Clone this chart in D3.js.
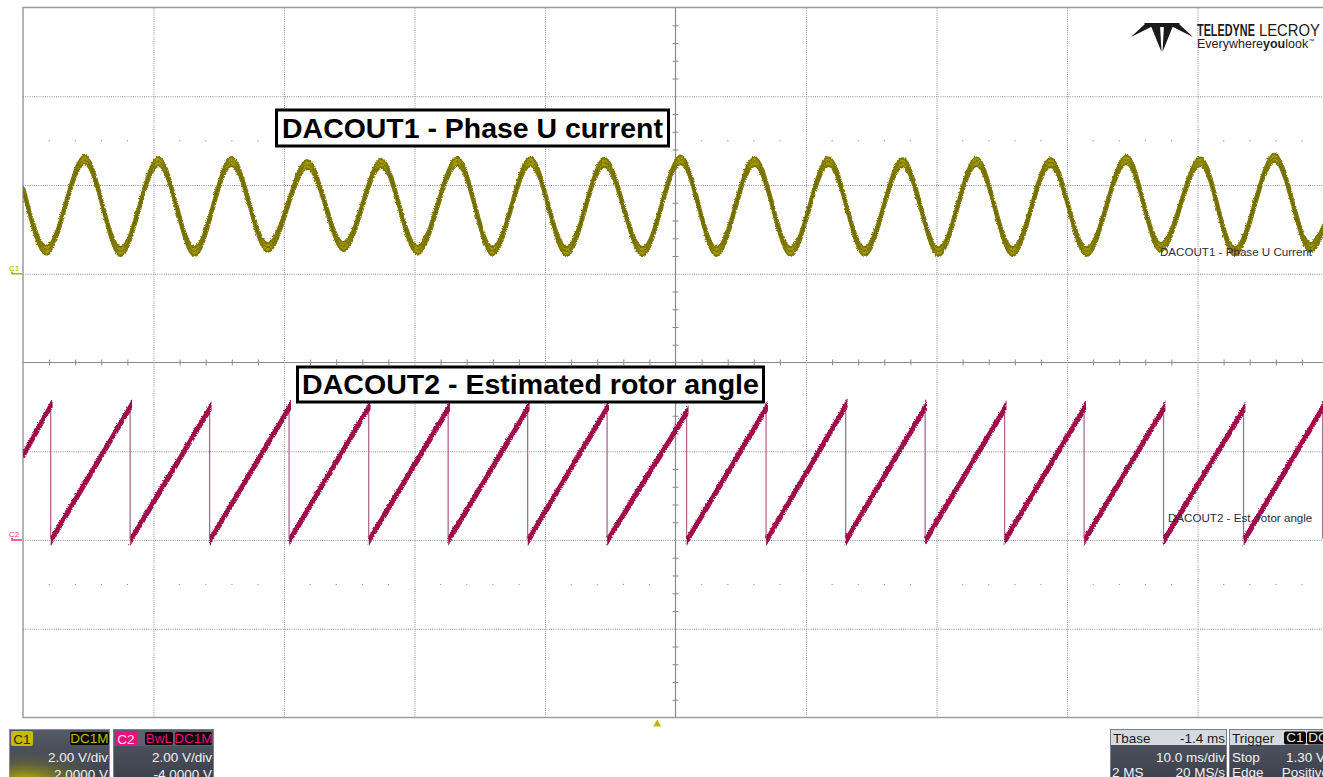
<!DOCTYPE html>
<html>
<head>
<meta charset="utf-8">
<script src="https://cdn.jsdelivr.net/npm/d3@7"></script>
<style>
  html, body { margin: 0; padding: 0; background: #fff; overflow: hidden; }
  svg { display: block; font-family: "Liberation Sans", Arial, sans-serif; }
</style>
</head>
<body>
<svg id="scope" width="1323" height="777"></svg>
<script>
// ---- acquisition settings ----
const timePerDiv = 10;          // ms/div
const triggerDelay = -1.4;      // ms (Tbase)
const hDivs = 10, vDivs = 8;
const c1VoltsPerDiv = 2, c1Offset = 2;     // V
const c2VoltsPerDiv = 2, c2Offset = -4;    // V
const triggerLevel = 1.30;                 // V on C1

// ---- C1: phase U current, extrema of each half cycle (ms, V) ----
const c1Times = [-48.6, -46.87, -43.95, -41.20, -38.28, -35.53, -32.69, -29.93, -26.87, -24.11,
                 -21.20, -18.44, -15.38, -12.69, -9.78, -7.02, -4.11, -1.20, 1.72, 4.47,
                 7.39, 10.15, 13.06, 15.82, 18.73, 21.49, 24.40, 27.16, 30.07, 32.83,
                 35.89, 38.51, 41.56, 44.18, 47.23, 50.00, 51.08];
const c1Volts = [1.87, 0.55, 2.59, 0.52, 2.55, 0.52, 2.55, 0.61, 2.48, 0.63,
                 2.51, 0.55, 2.55, 0.53, 2.55, 0.52, 2.53, 0.52, 2.59, 0.52,
                 2.55, 0.52, 2.55, 0.52, 2.53, 0.52, 2.55, 0.52, 2.53, 0.52,
                 2.59, 0.61, 2.55, 0.52, 2.63, 0.61, 1.10];

// ---- C2: estimated rotor angle sawtooth (wrap instants, ms / V) ----
const c2StartTime = -48.6, c2StartVolt = 1.95;
const c2WrapTimes = [-46.48, -40.39, -34.30, -28.21, -22.11, -16.02, -9.93, -3.84, 2.25,
                     8.34, 14.44, 20.53, 26.62, 32.71, 38.80, 44.93, 50.99];
const c2TopVolts  = [3.08, 3.05, 3.01, 3.03, 3.04, 3.01, 3.01, 3.03, 2.92,
                     3.01, 3.07, 3.03, 3.01, 3.01, 3.01, 2.99, 3.03];
const c2BottomVolts = [0.03, 0.03, 0.03, 0.03, 0.03, 0.03, 0.03, 0.03, 0.03,
                       0.03, 0.03, 0.03, 0.03, 0.03, 0.03, 0.03, 0.03];

// ---- annotation text ----
const title1 = "DACOUT1 - Phase U current";
const title2 = "DACOUT2 - Estimated rotor angle";
const tag1 = "DACOUT1 - Phase U Current";
const tag2 = "DACOUT2 - Est. rotor angle";

// ---- layout ----
const plot = { left: 23, top: 7.5, width: 1305, height: 710 };
const divW = plot.width / hDivs, divH = plot.height / vDivs;

const svg = d3.select("#scope");

const tCenter = -triggerDelay;
const x = d3.scaleLinear()
  .domain([tCenter - timePerDiv * hDivs / 2, tCenter + timePerDiv * hDivs / 2])
  .range([plot.left, plot.left + plot.width]);
const y1 = d3.scaleLinear()
  .domain([-c1Offset - c1VoltsPerDiv * vDivs / 2, -c1Offset + c1VoltsPerDiv * vDivs / 2])
  .range([plot.top + plot.height, plot.top]);
const y2 = d3.scaleLinear()
  .domain([-c2Offset - c2VoltsPerDiv * vDivs / 2, -c2Offset + c2VoltsPerDiv * vDivs / 2])
  .range([plot.top + plot.height, plot.top]);

const defs = svg.append("defs");
defs.append("clipPath").attr("id", "plotClip").append("rect")
  .attr("x", plot.left).attr("y", plot.top).attr("width", plot.width).attr("height", plot.height);
const jag = defs.append("filter").attr("id", "jag")
  .attr("x", "-2%").attr("y", "-20%").attr("width", "104%").attr("height", "140%");
jag.append("feTurbulence").attr("type", "turbulence").attr("baseFrequency", "0.9 0.5")
  .attr("numOctaves", 1).attr("seed", 4).attr("result", "n");
jag.append("feDisplacementMap").attr("in", "SourceGraphic").attr("in2", "n")
  .attr("scale", 2.4).attr("xChannelSelector", "R").attr("yChannelSelector", "G");

// ---- graticule ----
const divTimes = d3.range(1, hDivs).map(i => x.domain()[0] + i * timePerDiv);
const c1DivVolts = d3.range(1, vDivs).map(i => y1.domain()[0] + i * c1VoltsPerDiv);
const grid = svg.append("g");

grid.append("g")
  .attr("transform", `translate(0,${plot.top + plot.height})`)
  .call(d3.axisBottom(x).tickValues(divTimes.filter((d, i) => i !== 4))
    .tickSize(-plot.height).tickFormat(""))
  .call(g => g.select(".domain").remove())
  .call(g => g.selectAll("line").attr("stroke", "#8e8e8e").attr("stroke-dasharray", "1,1.2"));
grid.append("g")
  .attr("transform", `translate(${plot.left},0)`)
  .call(d3.axisLeft(y1).tickValues(c1DivVolts.filter((d, i) => i !== 3))
    .tickSize(-plot.width).tickFormat(""))
  .call(g => g.select(".domain").remove())
  .call(g => g.selectAll("line").attr("stroke", "#8e8e8e").attr("stroke-dasharray", "1,1.2"));

// minor-division dots on two rows
const minorTimes = d3.range(1, hDivs * 5).filter(i => i % 5 !== 0)
  .map(i => x.domain()[0] + i * timePerDiv / 5);
[1.5, 6.5].forEach(r => {
  const yy = plot.top + r * divH;
  grid.append("g").selectAll("rect").data(minorTimes).join("rect")
    .attr("x", d => x(d) - 0.5).attr("y", yy - 0.5).attr("width", 1.2).attr("height", 1.2)
    .attr("fill", "#9a9a9a");
});

// centre cross with fine ticks
const cx = x(tCenter), cy = y1(-c1Offset);
grid.append("line").attr("x1", cx).attr("x2", cx).attr("y1", plot.top).attr("y2", plot.top + plot.height)
  .attr("stroke", "#8a8a8a").attr("stroke-width", 1.2);
grid.append("line").attr("x1", plot.left).attr("x2", plot.left + plot.width).attr("y1", cy).attr("y2", cy)
  .attr("stroke", "#8a8a8a").attr("stroke-width", 1.2);
grid.append("g").attr("transform", `translate(0,${cy - 3})`)
  .call(d3.axisBottom(x).tickValues(minorTimes).tickSize(6).tickFormat(""))
  .call(g => g.select(".domain").remove())
  .call(g => g.selectAll("line").attr("stroke", "#8a8a8a"));
const c1Minor = d3.range(1, vDivs * 5).filter(i => i % 5 !== 0)
  .map(i => y1.domain()[0] + i * c1VoltsPerDiv / 5);
grid.append("g").attr("transform", `translate(${cx + 3},0)`)
  .call(d3.axisLeft(y1).tickValues(c1Minor).tickSize(6).tickFormat(""))
  .call(g => g.select(".domain").remove())
  .call(g => g.selectAll("line").attr("stroke", "#8a8a8a"));

// border
grid.append("rect").attr("x", plot.left).attr("y", plot.top)
  .attr("width", plot.width).attr("height", plot.height)
  .attr("fill", "none").attr("stroke", "#9c9c9c").attr("stroke-width", 1.5);

// ---- traces ----
const traces = svg.append("g").attr("clip-path", "url(#plotClip)");

const c1Data = c1Times.map((t, i) => ({ t, v: c1Volts[i] }));
const c1Band = d3.area().curve(d3.curveMonotoneX)
  .x(d => x(d.t)).y0(d => y1(d.v) + 4.2).y1(d => y1(d.v) - 4.2);
const c1Line = d3.line().curve(d3.curveMonotoneX).x(d => x(d.t)).y(d => y1(d.v));
const g1 = traces.append("g").attr("filter", "url(#jag)");
g1.append("path").attr("d", c1Band(c1Data))
  .attr("fill", "#a39b00").attr("stroke", "#7e7800").attr("stroke-width", 2.4);
g1.append("path").attr("d", c1Line(c1Data))
  .attr("fill", "none").attr("stroke", "#6a6400").attr("stroke-width", 1.3).attr("opacity", 0.8);

// sawtooth ramps and wrap lines
const ramps = c2WrapTimes.map((t, i) => i === 0
  ? [{ t: c2StartTime, v: c2StartVolt }, { t, v: c2TopVolts[i] }]
  : [{ t: c2WrapTimes[i - 1], v: c2BottomVolts[i - 1] }, { t, v: c2TopVolts[i] }]);
const c2Band = d3.area().x(d => x(d.t)).y0(d => y2(d.v) + 3.2).y1(d => y2(d.v) - 3.2);
const c2Line = d3.line().x(d => x(d.t)).y(d => y2(d.v));
const g2 = traces.append("g");
g2.selectAll("line.wrap").data(c2WrapTimes).join("line").attr("class", "wrap")
  .attr("x1", d => x(d)).attr("x2", d => x(d))
  .attr("y1", (d, i) => y2(c2TopVolts[i])).attr("y2", (d, i) => y2(c2BottomVolts[i]))
  .attr("stroke", "#b0688f").attr("stroke-width", 1.3);
const g2r = g2.append("g").attr("filter", "url(#jag)");
g2r.selectAll("path.band").data(ramps).join("path").attr("class", "band")
  .attr("d", c2Band).attr("fill", "#c81360").attr("stroke", "#a00c4a").attr("stroke-width", 1.8);
g2r.selectAll("path.core").data(ramps).join("path").attr("class", "core")
  .attr("d", c2Line).attr("fill", "none").attr("stroke", "#850a3c").attr("stroke-width", 1.1).attr("opacity", 0.8);

// ---- channel ground markers ----
function groundMarker(yy, label, color) {
  const g = svg.append("g");
  g.append("text").attr("x", 9).attr("y", yy - 3).attr("font-size", 8).attr("fill", color).text(label);
  g.append("path").attr("d", `M12,${yy - 2} L12,${yy} L22,${yy}`)
    .attr("fill", "none").attr("stroke", color).attr("stroke-width", 1.5);
}
groundMarker(y1(0), "C1", "#b4ac00");
groundMarker(y2(0), "C2", "#e8307e");

// trigger position marker
svg.append("path")
  .attr("d", `M${x(0)},${plot.top + plot.height + 2} l4,7 l-8,0 Z`)
  .attr("fill", "#bdb500");

// ---- boxed titles ----
function boxedTitle(label, left, top, w, h, textW, base) {
  const g = svg.append("g");
  g.append("rect").attr("x", left).attr("y", top).attr("width", w).attr("height", h)
    .attr("fill", "#fff").attr("stroke", "#000").attr("stroke-width", 3);
  const t = g.append("text").attr("x", left + w / 2).attr("y", base)
    .attr("text-anchor", "middle").attr("font-weight", "bold").attr("font-size", 24)
    .attr("fill", "#000").text(label);
  const len = t.node().getComputedTextLength();
  t.attr("font-size", 24 * textW / len);
}
boxedTitle(title1, 276.5, 110, 392, 36, 381, 137.5);
boxedTitle(title2, 297.5, 367, 466, 35, 457, 394);

// ---- trace tags ----
svg.append("text").attr("x", 1160).attr("y", 256).attr("font-size", 11.6)
  .attr("fill", "#2a2c3c").text(tag1);
svg.append("text").attr("x", 1168).attr("y", 522).attr("font-size", 11.6)
  .attr("fill", "#2a2c3c").text(tag2);

// ---- logo ----
const logo = svg.append("g").attr("fill", "#1a1a1a");
logo.append("path").attr("d", "M1131,37 L1146,23 L1159,23 L1143,31 Z");
logo.append("path").attr("d", "M1151,26 L1160,25 L1161.5,52 Z");
logo.append("path").attr("d", "M1173,26 L1164,25 L1162.5,52 Z");
logo.append("path").attr("d", "M1193,37 L1178,23 L1165,23 L1181,31 Z");
logo.append("path").attr("d", "M1144,23 L1180,23 L1176,27 L1148,27 Z");
// condensed wordmark: each word squeezed horizontally to its width
function condensedWord(txt, x0, base, w, bold) {
  const g = logo.append("g");
  const t = g.append("text").attr("x", 0).attr("y", 0).attr("font-size", 16)
    .attr("font-weight", bold ? "bold" : "normal").text(txt);
  const len = t.node().getComputedTextLength();
  g.attr("transform", `translate(${x0},${base}) scale(${w / len},1)`);
}
condensedWord("TELEDYNE", 1197, 35.5, 58, true);
condensedWord("LECROY", 1259, 35.5, 61, false);
const ls = logo.append("text").attr("x", 1197).attr("y", 48).attr("font-size", 12.5).attr("fill", "#222");
ls.append("tspan").text("Everywhere");
ls.append("tspan").attr("font-weight", "bold").text("you");
ls.append("tspan").text("look");
ls.append("tspan").attr("font-size", 6).attr("dy", -5).text("™");

// ---- status panels ----
const panels = svg.append("g").attr("font-size", 13.5);
const pg = defs.append("linearGradient").attr("id", "panelBg").attr("x1", 0).attr("y1", 0).attr("x2", 0).attr("y2", 1);
pg.append("stop").attr("offset", 0).attr("stop-color", "#545a66");
pg.append("stop").attr("offset", 1).attr("stop-color", "#3a3f4a");
const glow = defs.append("radialGradient").attr("id", "c1Glow").attr("cx", 0.15).attr("cy", 1).attr("r", 0.9);
glow.append("stop").attr("offset", 0).attr("stop-color", "#c8c000").attr("stop-opacity", 0.95);
glow.append("stop").attr("offset", 0.55).attr("stop-color", "#8a8620").attr("stop-opacity", 0.35);
glow.append("stop").attr("offset", 1).attr("stop-color", "#505662").attr("stop-opacity", 0);

function tagBox(g, x0, y0, w, h, bg, fg, txt) {
  g.append("rect").attr("x", x0).attr("y", y0).attr("width", w).attr("height", h).attr("rx", 2).attr("fill", bg);
  g.append("text").attr("x", x0 + w / 2).attr("y", y0 + h - 2.5).attr("text-anchor", "middle")
    .attr("fill", fg).text(txt);
}

// C1 panel
{
  const g = panels.append("g");
  g.append("rect").attr("x", 9.5).attr("y", 729.5).attr("width", 100).attr("height", 52)
    .attr("fill", "url(#panelBg)").attr("stroke", "#9c9a30");
  g.append("rect").attr("x", 10).attr("y", 744).attr("width", 99).attr("height", 37).attr("fill", "url(#c1Glow)");
  tagBox(g, 11, 731, 22, 15, "#c4bc00", "#2a2a10", "C1");
  tagBox(g, 70, 732, 39, 13, "#0a0a0a", "#c4bc00", "DC1M");
  g.append("text").attr("x", 108).attr("y", 762).attr("text-anchor", "end").attr("fill", "#f2f2f2").text("2.00 V/div");
  g.append("text").attr("x", 108).attr("y", 779).attr("text-anchor", "end").attr("fill", "#f2f2f2").text("2.0000 V");
}
// C2 panel
{
  const g = panels.append("g");
  g.append("rect").attr("x", 113.5).attr("y", 729.5).attr("width", 100).attr("height", 52)
    .attr("fill", "url(#panelBg)").attr("stroke", "#7a7e88");
  g.append("rect").attr("x", 114).attr("y", 730).attr("width", 99).attr("height", 16).attr("fill", "#5c616c");
  tagBox(g, 115, 731, 22, 15, "#e8107c", "#ffe0f0", "C2");
  tagBox(g, 145, 732, 28, 13, "#0a0a0a", "#e8107c", "BwL");
  tagBox(g, 175, 732, 37, 13, "#0a0a0a", "#e8107c", "DC1M");
  g.append("text").attr("x", 212).attr("y", 762).attr("text-anchor", "end").attr("fill", "#f2f2f2").text("2.00 V/div");
  g.append("text").attr("x", 212).attr("y", 779).attr("text-anchor", "end").attr("fill", "#f2f2f2").text("-4.0000 V");
}
// Timebase panel
{
  const g = panels.append("g");
  g.append("rect").attr("x", 1110.5).attr("y", 729.5).attr("width", 116).attr("height", 52)
    .attr("fill", "url(#panelBg)").attr("stroke", "#7a7e88");
  g.append("rect").attr("x", 1111).attr("y", 730).attr("width", 115).attr("height", 15).attr("fill", "#d6d9e0");
  g.append("text").attr("x", 1113).attr("y", 743).attr("fill", "#1a1a1a").text("Tbase");
  g.append("text").attr("x", 1225).attr("y", 743).attr("text-anchor", "end").attr("fill", "#1a1a1a").text("-1.4 ms");
  g.append("text").attr("x", 1225).attr("y", 762).attr("text-anchor", "end").attr("fill", "#f2f2f2").text("10.0 ms/div");
  g.append("text").attr("x", 1112).attr("y", 777).attr("fill", "#f2f2f2").text("2 MS");
  g.append("text").attr("x", 1225).attr("y", 777).attr("text-anchor", "end").attr("fill", "#f2f2f2").text("20 MS/s");
}
// Trigger panel
{
  const g = panels.append("g");
  g.append("rect").attr("x", 1229.5).attr("y", 729.5).attr("width", 100).attr("height", 52)
    .attr("fill", "url(#panelBg)").attr("stroke", "#7a7e88");
  g.append("rect").attr("x", 1230).attr("y", 730).attr("width", 99).attr("height", 15).attr("fill", "#d6d9e0");
  g.append("text").attr("x", 1232).attr("y", 743).attr("fill", "#1a1a1a").text("Trigger");
  tagBox(g, 1284, 731.5, 22, 13, "#0a0a0a", "#e8e8e8", "C1");
  tagBox(g, 1307, 731.5, 22, 13, "#0a0a0a", "#e8e8e8", "DC");
  g.append("text").attr("x", 1232).attr("y", 762).attr("fill", "#f2f2f2").text("Stop");
  g.append("text").attr("x", 1325).attr("y", 762).attr("text-anchor", "end").attr("fill", "#f2f2f2")
    .text(triggerLevel.toFixed(2) + " V");
  g.append("text").attr("x", 1232).attr("y", 777).attr("fill", "#f2f2f2").text("Edge");
  g.append("text").attr("x", 1329).attr("y", 777).attr("text-anchor", "end").attr("fill", "#f2f2f2").text("Positive");
}
</script>
</body>
</html>
